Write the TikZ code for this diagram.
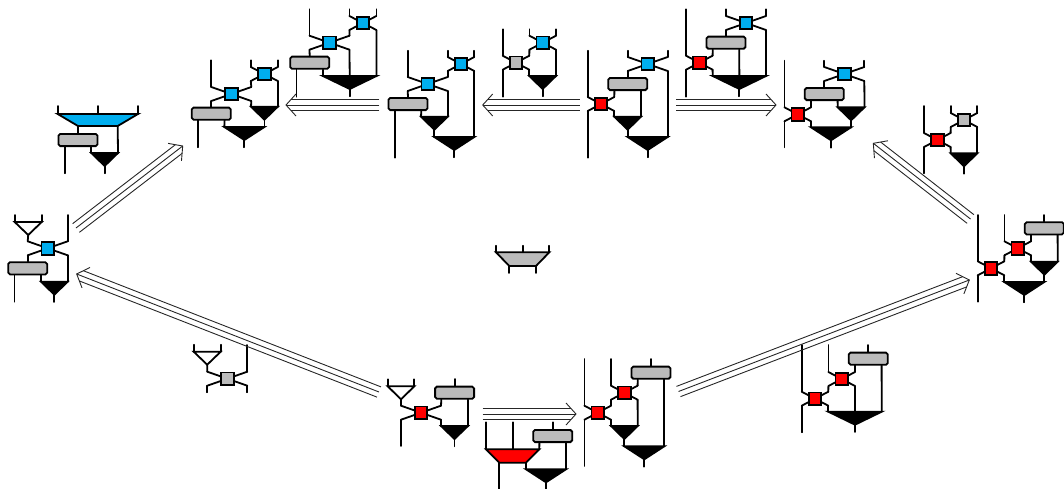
\documentclass[tikz,border=0pt]{standalone}
\usetikzlibrary{arrows, positioning, shapes, calc}

\definecolor{cblue}{HTML}{00AEEF}
\definecolor{cred}{HTML}{FF0000}
\definecolor{cgray}{HTML}{BBBBBB}

% crossing: name, x, y, half width, colour
\newcommand{\crossing}[5]{
  \coordinate (#1-nw) at ({#2-#4},{#3-7});
  \coordinate (#1-ne) at ({#2+#4},{#3-7});
  \coordinate (#1-sw) at ({#2-#4},{#3+7});
  \coordinate (#1-se) at ({#2+#4},{#3+7});
  \draw[wire] (#1-nw) -- (#1-se) (#1-ne) -- (#1-sw);
  \node[cross, fill=#5] (#1) at (#2,#3) {};
}
% bar: name, x, y
\newcommand{\barbox}[3]{
  \node[bar] (#1) at (#2,#3) {};
  \coordinate (#1-l) at ({#2-13.3},{#3+6.7});
  \coordinate (#1-r) at ({#2+13.3},{#3+6.7});
}
% funnel: name, left x, right x, top y
\newcommand{\funnel}[4]{
  \coordinate (#1-l) at (#2,#4);
  \coordinate (#1-r) at (#3,#4);
  \coordinate (#1-m) at ({(#2+#3)/2},#4);
  \coordinate (#1-p) at ({(#2+#3)/2},{#4+13});
  \coordinate (#1-o) at ({(#2+#3)/2},{#4+20.3});
  \draw[wire, fill=black] (#1-l) -- (#1-r) -- (#1-p) -- cycle;
  \draw[wire] (#1-p) -- (#1-o);
}
% white splitter: name, left x, right x, top y
\newcommand{\splitter}[4]{
  \coordinate (#1-l) at (#2,#4);
  \coordinate (#1-r) at (#3,#4);
  \coordinate (#1-p) at ({(#2+#3)/2},{#4+13});
  \coordinate (#1-lt) at (#2,{#4-7});
  \coordinate (#1-rt) at (#3,{#4-7});
  \draw[wire, fill=white] (#1-l) -- (#1-r) -- (#1-p) -- cycle;
  \draw[wire] (#1-l) -- (#1-lt) (#1-r) -- (#1-rt);
}
% trapezoid: name, left x, right x, top y, inset, height, colour
\newcommand{\trap}[7]{
  \coordinate (#1-l) at (#2,#4);
  \coordinate (#1-r) at (#3,#4);
  \coordinate (#1-m) at ({(#2+#3)/2},#4);
  \coordinate (#1-bl) at ({#2+#5},{#4+#6});
  \coordinate (#1-br) at ({#3-#5},{#4+#6});
  \draw[wire, fill=#7] (#1-l) -- (#1-r) -- (#1-br) -- (#1-bl) -- cycle;
}
% triple arrow: from, to
\newcommand{\triple}[2]{
  \coordinate (tb) at ($(#2)!10pt!(#1)$);
  \coordinate (te) at ($(#2)!5pt!(#1)$);
  \draw[arrline] (#1) -- (#2);
  \draw[arrline] ($(#1)!5.5pt!90:(#2)$) -- ($(te)!5.5pt!90:(#2)$);
  \draw[arrline] ($(#1)!5.5pt!-90:(#2)$) -- ($(te)!5.5pt!-90:(#2)$);
  \draw[arrline] ($(tb)!11pt!90:(#2)$) -- (#2) -- ($(tb)!11pt!-90:(#2)$);
}

\begin{document}
\begin{tikzpicture}[
    x=1pt, y=-1pt,
    wire/.style={line width=1.8pt, line cap=round, line join=miter},
    arrline/.style={line width=0.9pt, black!85},
    cross/.style={draw, line width=1.8pt, inner sep=0pt, minimum size=12.6pt},
    bar/.style={draw, line width=1.8pt, fill=cgray, rounded corners=1.8pt, inner sep=0pt,
    minimum width=39pt, minimum height=12.2pt}
    ]
    \useasboundingbox (0,0) rectangle (1064,488);

    % left
    \coordinate (at) at (0,215);
    \coordinate (ab) at (0,301.7);
    \crossing{ac}{47.7}{248.3}{20}{cblue}
    \splitter{as}{14.7}{41.7}{222}
    \barbox{abar}{27.7}{268.3}
    \funnel{af}{41}{67.7}{281.7}
    \draw[wire] (as-p) -- (ac-nw);
    \draw[wire] (ac-ne) -- (ac-ne |- at);
    \draw[wire] (ac-sw) -- (abar.north);
    \draw[wire] (abar-l) -- (abar-l |- ab);
    \draw[wire] (abar-r) -- (af-l);
    \draw[wire] (ac-se) -- (af-r);

    % blue trapezoid
    \coordinate (bt) at (0,106);
    \coordinate (bb) at (0,173.3);
    \trap{bm}{57.7}{138}{114}{20.3}{12}{cblue}
    \barbox{bbar}{78}{140}
    \funnel{bf}{91.3}{118}{153}
    \draw[wire] (bm-l) -- (bm-l |- bt);
    \draw[wire] (bm-m) -- (bm-m |- bt);
    \draw[wire] (bm-r) -- (bm-r |- bt);
    \draw[wire] (bm-bl) -- (bbar.north);
    \draw[wire] (bm-br) -- (bf-r);
    \draw[wire] (bbar-l) -- (bbar-l |- bb);
    \draw[wire] (bbar-r) -- (bf-l);

    % top left
    \coordinate (ct) at (0,60.3);
    \coordinate (cb) at (0,147.3);
    \crossing{cc}{231.3}{94}{20}{cblue}
    \crossing{cd}{264.3}{74}{13.5}{cblue}
    \barbox{cbar}{211.3}{113.7}
    \funnel{cf}{251}{277.8}{106.7}
    \funnel{cg}{224.3}{264.4}{127}
    \draw[wire] (cc-nw) -- (cc-nw |- ct);
    \draw[wire] (cc-ne) -- (cd-sw);
    \draw[wire] (cd-nw) -- (cd-nw |- ct);
    \draw[wire] (cd-ne) -- (cd-ne |- ct);
    \draw[wire] (cc-sw) -- (cbar.north);
    \draw[wire] (cbar-l) -- (cbar-l |- cb);
    \draw[wire] (cbar-r) -- (cg-l);
    \draw[wire] (cc-se) -- (cf-l);
    \draw[wire] (cd-se) -- (cf-r);

    % top
    \coordinate (dt) at (0,9.3);
    \coordinate (db) at (0,96.7);
    \crossing{dc}{329.5}{42.7}{20}{cblue}
    \crossing{dd}{362.9}{23}{13.5}{cblue}
    \barbox{dbar}{309.7}{62.7}
    \funnel{df}{322.9}{376.5}{76}
    \draw[wire] (dc-nw) -- (dc-nw |- dt);
    \draw[wire] (dc-ne) -- (dd-sw);
    \draw[wire] (dd-nw) -- (dd-nw |- dt);
    \draw[wire] (dd-ne) -- (dd-ne |- dt);
    \draw[wire] (dc-sw) -- (dbar.north);
    \draw[wire] (dbar-l) -- (dbar-l |- db);
    \draw[wire] (dbar-r) -- (df-l);
    \draw[wire] (dc-se) -- (df-m);
    \draw[wire] (dd-se) -- (df-r);

    % second from left, top
    \coordinate (et) at (0,50.7);
    \coordinate (eb) at (0,157.7);
    \crossing{ec}{427.7}{84}{20}{cblue}
    \crossing{ed}{461}{64}{13.3}{cblue}
    \barbox{ebar}{408}{104}
    \funnel{ef}{421}{447.7}{116.7}
    \funnel{eg}{434.3}{474.3}{137}
    \draw[wire] (ec-nw) -- (ec-nw |- et);
    \draw[wire] (ec-ne) -- (ed-sw);
    \draw[wire] (ed-nw) -- (ed-nw |- et);
    \draw[wire] (ed-ne) -- (ed-ne |- et);
    \draw[wire] (ec-sw) -- (ebar.north);
    \draw[wire] (ebar-l) -- (ebar-l |- eb);
    \draw[wire] (ebar-r) -- (ef-l);
    \draw[wire] (ec-se) -- (ef-r);
    \draw[wire] (ed-se) -- (eg-r);

    % grey over blue
    \coordinate (ft) at (0,29.3);
    \coordinate (fb) at (0,96.7);
    \crossing{fc}{516}{62.7}{13.3}{cgray}
    \crossing{fd}{542.7}{42.7}{13.3}{cblue}
    \funnel{ff}{529.3}{556}{76}
    \draw[wire] (fc-nw) -- (fc-nw |- ft);
    \draw[wire] (fc-sw) -- (fc-sw |- fb);
    \draw[wire] (fc-ne) -- (fd-sw);
    \draw[wire] (fd-nw) -- (fd-nw |- ft);
    \draw[wire] (fd-ne) -- (fd-ne |- ft);
    \draw[wire] (fc-se) -- (ff-l);
    \draw[wire] (fd-se) -- (ff-r);

    % red and blue, long
    \coordinate (gt) at (0,50.7);
    \coordinate (gb) at (0,157.7);
    \crossing{gc}{601}{104}{13.3}{cred}
    \crossing{gd}{647.7}{64}{20}{cblue}
    \barbox{gbar}{627.7}{84}
    \funnel{gf}{614.3}{641}{116.7}
    \funnel{gg}{627.7}{667.7}{137}
    \draw[wire] (gc-nw) -- (gc-nw |- gt);
    \draw[wire] (gc-sw) -- (gc-sw |- gb);
    \draw[wire] (gc-ne) -- (gbar-l);
    \draw[wire] (gc-se) -- (gf-l);
    \draw[wire] (gbar-r) -- (gf-r);
    \draw[wire] (gd-nw) -- (gd-nw |- gt);
    \draw[wire] (gd-ne) -- (gd-ne |- gt);
    \draw[wire] (gd-sw) -- (gbar.north);
    \draw[wire] (gd-se) -- (gg-r);

    % red and blue, top
    \coordinate (ht) at (0,9.3);
    \coordinate (hb) at (0,96.7);
    \crossing{hc}{699.3}{62.7}{13.3}{cred}
    \crossing{hd}{746}{23}{20}{cblue}
    \barbox{hbar}{726}{42.7}
    \funnel{hf}{712.7}{766}{76}
    \draw[wire] (hc-nw) -- (hc-nw |- ht);
    \draw[wire] (hc-sw) -- (hc-sw |- hb);
    \draw[wire] (hc-ne) -- (hbar-l);
    \draw[wire] (hc-se) -- (hf-l);
    \draw[wire] (hbar-r) -- (hf-m);
    \draw[wire] (hd-nw) -- (hd-nw |- ht);
    \draw[wire] (hd-ne) -- (hd-ne |- ht);
    \draw[wire] (hd-sw) -- (hbar.north);
    \draw[wire] (hd-se) -- (hf-r);

    % red and blue, right
    \coordinate (it) at (0,60.7);
    \coordinate (ib) at (0,147.3);
    \crossing{ic}{797.7}{114.3}{13.3}{cred}
    \crossing{id}{844.3}{74}{20}{cblue}
    \barbox{ibar}{824.3}{94}
    \funnel{if}{837.7}{864.5}{107.3}
    \funnel{ig}{811}{851}{127.3}
    \draw[wire] (ic-nw) -- (ic-nw |- it);
    \draw[wire] (ic-sw) -- (ic-sw |- ib);
    \draw[wire] (ic-ne) -- (ibar-l);
    \draw[wire] (ic-se) -- (ig-l);
    \draw[wire] (ibar-r) -- (if-l);
    \draw[wire] (id-nw) -- (id-nw |- it);
    \draw[wire] (id-ne) -- (id-ne |- it);
    \draw[wire] (id-sw) -- (ibar.north);
    \draw[wire] (id-se) -- (if-r);

    % red over grey
    \coordinate (jt) at (0,106);
    \coordinate (jb) at (0,173.3);
    \crossing{jc}{937.3}{140}{13.3}{cred}
    \crossing{jd}{964}{120}{13.3}{cgray}
    \funnel{jf}{950.7}{977.3}{153.3}
    \draw[wire] (jc-nw) -- (jc-nw |- jt);
    \draw[wire] (jc-sw) -- (jc-sw |- jb);
    \draw[wire] (jc-ne) -- (jd-sw);
    \draw[wire] (jd-nw) -- (jd-nw |- jt);
    \draw[wire] (jd-ne) -- (jd-ne |- jt);
    \draw[wire] (jc-se) -- (jf-l);
    \draw[wire] (jd-se) -- (jf-r);

    % right
    \coordinate (kt) at (0,215);
    \coordinate (kb) at (0,301.7);
    \crossing{kc}{991}{268.3}{13.3}{cred}
    \crossing{kd}{1017.7}{248.3}{13.3}{cred}
    \barbox{kbar}{1044.3}{228.3}
    \funnel{kf}{1031}{1057.7}{261.7}
    \funnel{kg}{1004.3}{1044.3}{282}
    \draw[wire] (kc-nw) -- (kc-nw |- kt);
    \draw[wire] (kc-sw) -- (kc-sw |- kb);
    \draw[wire] (kc-ne) -- (kd-sw);
    \draw[wire] (kc-se) -- (kg-l);
    \draw[wire] (kd-nw) -- (kd-nw |- kt);
    \draw[wire] (kd-ne) -- (kbar-l);
    \draw[wire] (kd-se) -- (kf-l);
    \draw[wire] (kbar-r) -- (kf-r);
    \draw[wire] (kbar.north) -- (kbar.north |- kt);

    % centre
    \coordinate (lt) at (0,245.7);
    \coordinate (lb) at (0,273);
    \trap{lm}{496}{549.3}{252.3}{13.3}{13.7}{cgray}
    \draw[wire] (lm-l) -- (lm-l |- lt);
    \draw[wire] (lm-m) -- (lm-m |- lt);
    \draw[wire] (lm-r) -- (lm-r |- lt);
    \draw[wire] (lm-bl) -- (lm-bl |- lb);
    \draw[wire] (lm-br) -- (lm-br |- lb);

    % grey crossing
    \coordinate (mt) at (0,345);
    \coordinate (mb) at (0,392.3);
    \crossing{mc}{227.3}{378.7}{20}{cgray}
    \splitter{ms}{193.7}{220.7}{351.7}
    \draw[wire] (ms-p) -- (mc-nw);
    \draw[wire] (mc-ne) -- (mc-ne |- mt);
    \draw[wire] (mc-sw) -- (mc-sw |- mb);
    \draw[wire] (mc-se) -- (mc-se |- mb);

    % bottom left
    \coordinate (nt) at (0,379);
    \coordinate (nb) at (0,446);
    \crossing{nc}{421}{412.7}{20}{cred}
    \splitter{ns}{387.7}{414.3}{386.3}
    \barbox{nbar}{454.6}{392.7}
    \funnel{nf}{441}{468}{426}
    \draw[wire] (ns-p) -- (nc-nw);
    \draw[wire] (nc-sw) -- (nc-sw |- nb);
    \draw[wire] (nc-ne) -- (nbar-l);
    \draw[wire] (nc-se) -- (nf-l);
    \draw[wire] (nbar-r) -- (nf-r);
    \draw[wire] (nbar.north) -- (nbar.north |- nt);

    % red trapezoid
    \coordinate (ot) at (0,422.3);
    \coordinate (ob) at (0,490);
    \trap{om}{486}{539.3}{449.3}{13.3}{13.4}{cred}
    \barbox{obar}{552.7}{436}
    \funnel{of}{526}{566}{469.3}
    \draw[wire] (om-l) -- (om-l |- ot);
    \draw[wire] (om-m) -- (om-m |- ot);
    \draw[wire] (om-r) -- (obar-l);
    \draw[wire] (om-bl) -- (om-bl |- ob);
    \draw[wire] (om-br) -- (of-l);
    \draw[wire] (obar-r) -- (of-r);
    \draw[wire] (obar.north) -- (obar.north |- ot);

    % bottom middle
    \coordinate (pt) at (0,359);
    \coordinate (pb) at (0,466);
    \crossing{pc}{597.7}{412.7}{13.3}{cred}
    \crossing{pd}{624.3}{392.7}{13.3}{cred}
    \barbox{pbar}{651}{372.7}
    \funnel{pf}{611}{637.7}{426}
    \funnel{pg}{624.3}{664.3}{446.3}
    \draw[wire] (pc-nw) -- (pc-nw |- pt);
    \draw[wire] (pc-sw) -- (pc-sw |- pb);
    \draw[wire] (pc-ne) -- (pd-sw);
    \draw[wire] (pc-se) -- (pf-l);
    \draw[wire] (pd-nw) -- (pd-nw |- pt);
    \draw[wire] (pd-ne) -- (pbar-l);
    \draw[wire] (pd-se) -- (pf-r);
    \draw[wire] (pbar-r) -- (pg-r);
    \draw[wire] (pbar.north) -- (pbar.north |- pt);

    % bottom right
    \coordinate (qt) at (0,345);
    \coordinate (qb) at (0,432.3);
    \crossing{qc}{815}{398.7}{13.3}{cred}
    \crossing{qd}{841.7}{379}{13.3}{cred}
    \barbox{qbar}{868.3}{358.7}
    \funnel{qf}{828.3}{881.7}{411.7}
    \draw[wire] (qc-nw) -- (qc-nw |- qt);
    \draw[wire] (qc-sw) -- (qc-sw |- qb);
    \draw[wire] (qc-ne) -- (qd-sw);
    \draw[wire] (qc-se) -- (qf-l);
    \draw[wire] (qd-nw) -- (qd-nw |- qt);
    \draw[wire] (qd-ne) -- (qbar-l);
    \draw[wire] (qd-se) -- (qf-m);
    \draw[wire] (qbar-r) -- (qf-r);
    \draw[wire] (qbar.north) -- (qbar.north |- qt);

    % arrows
    \coordinate (r1) at (76,228);
    \coordinate (r2) at (182.7,146);
    \coordinate (s1) at (379.3,105);
    \coordinate (s2) at (286,105);
    \coordinate (u1) at (579.5,105);
    \coordinate (u2) at (482.7,105);
    \coordinate (v1) at (676,105);
    \coordinate (v2) at (776,105);
    \coordinate (w1) at (970.5,219);
    \coordinate (w2) at (873.3,143.3);
    \coordinate (y1) at (678.5,391.5);
    \coordinate (y2) at (969.3,280);
    \coordinate (z1) at (379,392);
    \coordinate (z2) at (76.7,274);
    \coordinate (a1) at (482.7,414);
    \coordinate (a2) at (576,414);
    \triple{r1}{r2}
    \triple{s1}{s2}
    \triple{u1}{u2}
    \triple{v1}{v2}
    \triple{w1}{w2}
    \triple{y1}{y2}
    \triple{z1}{z2}
    \triple{a1}{a2}
\end{tikzpicture}
\end{document}
